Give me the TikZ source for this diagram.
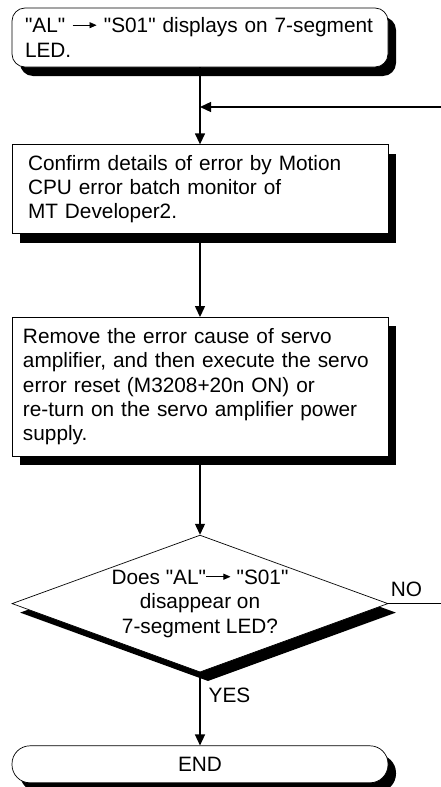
\documentclass[tikz,border=0pt]{standalone}
\usepackage{fontspec}
\setmainfont{Liberation Sans}[Ligatures=TeXOff]
\usetikzlibrary{positioning, arrows.meta, shapes.geometric, shadows}
\newcommand{\alto}{\tikz[baseline=-0.7ex]\draw[line width=0.8pt, -{Triangle[length=7pt, width=6pt]}] (0pt,0pt) -- (24pt,0pt);}
\tikzset{
  blackshadow/.style = {drop shadow={shadow xshift=8pt, shadow yshift=-9pt, fill=black, opacity=1}},
  termbox/.style = {draw, fill=white, line width=0.7pt, rounded corners=13pt, align=left, blackshadow},
  procbox/.style = {draw, fill=white, line width=0.7pt, align=left, blackshadow},
  decbox/.style  = {draw, fill=white, line width=0.7pt, diamond, aspect=2.745, inner sep=0pt, minimum width=376pt, minimum height=137pt, align=center, blackshadow},
  arrow/.style   = {-{Triangle[length=11pt, width=10pt]}, line width=1.3pt}
}

\begin{document}
\begin{tikzpicture}[x=1pt, y=1pt, every node/.style={font=\fontsize{20.8}{24.3}\selectfont}]
  \useasboundingbox (0,0) rectangle (441,-787);
  \node[termbox, text width=350pt, inner xsep=13pt, minimum height=59pt] (start) at (200,-37.5)
    {"AL" \alto{} "S01" displays on 7-segment\\ LED.};
  \node[procbox, below=77pt of start, text width=344pt, inner xsep=16pt, minimum height=89pt] (confirm)
    {Confirm details of error by Motion\\CPU error batch monitor of\\MT Developer2.};
  \node[procbox, below=83pt of confirm, text width=354pt, inner xsep=11pt, minimum height=139pt] (remove)
    {Remove the error cause of servo\\amplifier, and then execute the servo\\error reset (M3208+20n ON) or\\re-turn on the servo amplifier power\\supply.};
  \node[decbox, below=78pt of remove] (check)
    {Does "AL"\alto{} "S01"\\disappear on\\7-segment LED?};
  \node[termbox, below=73pt of check, rounded corners=18pt, text width=350pt, inner xsep=13pt, minimum height=37pt, align=center] (end)
    {END};

  \coordinate (ret) at (441,-107);
  \coordinate (join) at (start.south |- ret);
  \coordinate (noend) at (ret |- check.east);

  \draw[arrow] (start.south) -- (confirm.north);
  \draw[arrow] (ret) -- (join);
  \draw[arrow] (confirm.south) -- (remove.north);
  \draw[arrow] (remove.south) -- (check.north);
  \draw[arrow] (check.south) -- node[right, pos=0.32, inner sep=8pt] {YES} (end.north);
  \draw[line width=1pt] (check.east) -- node[pos=0, anchor=south west, inner sep=0pt, xshift=2pt, yshift=6pt] {NO} (noend);
\end{tikzpicture}
\end{document}
